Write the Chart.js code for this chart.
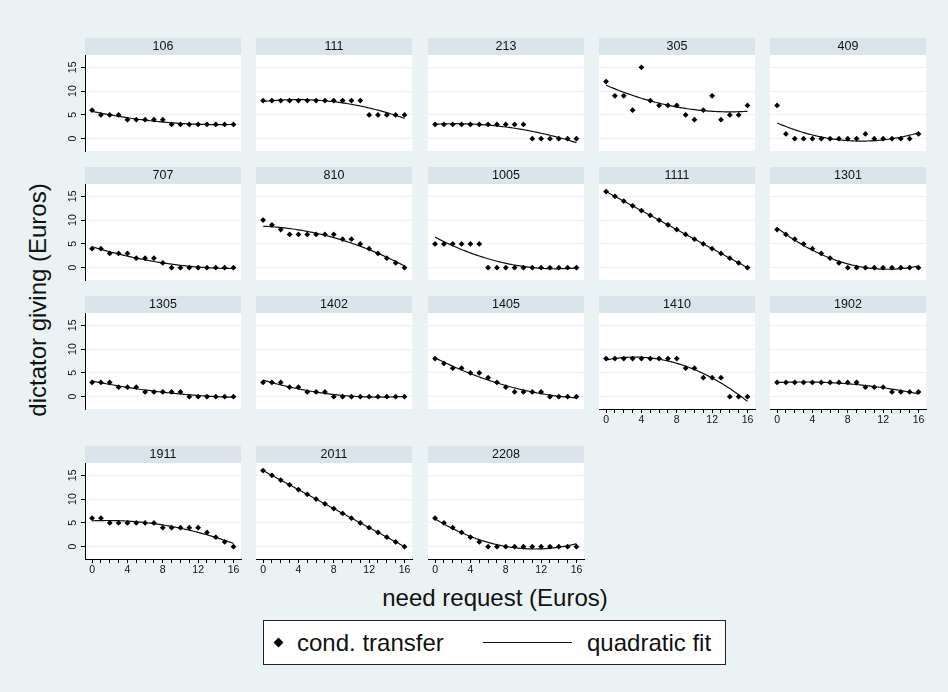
<!DOCTYPE html>
<html>
<head>
<meta charset="utf-8">
<title>dictator giving by need request</title>
<script src="https://cdn.jsdelivr.net/npm/chart.js@4.4.0/dist/chart.umd.min.js"></script>
<style>
  html, body { margin: 0; padding: 0; }
  body {
    width: 948px; height: 692px; position: relative; overflow: hidden;
    background: #eaf2f3;
    font-family: "Liberation Sans", Arial, sans-serif; color: #111;
  }
  canvas.panel { position: absolute; }
  #ytitle {
    position: absolute; left: 38px; top: 300px; white-space: nowrap; font-size: 24px;
    transform: translate(-50%, -50%) rotate(-90deg);
  }
  #xtitle {
    position: absolute; left: 495px; top: 598px; white-space: nowrap; font-size: 24px;
    transform: translate(-50%, -50%);
  }
  #legend {
    position: absolute; left: 263px; top: 620px; width: 461px; height: 43px;
    background: #fff; border: 1px solid #222; font-size: 24px; line-height: 43px;
  }
  #legend .diamond {
    position: absolute; left: 11px; top: 18px; width: 7px; height: 7px;
    background: #000; transform: rotate(45deg);
  }
  #legend .line { position: absolute; left: 219px; top: 21px; width: 89px; height: 0; border-top: 1.5px solid #111; }
  #legend .lbl { position: absolute; top: 0; white-space: nowrap; }
</style>
</head>
<body>

<div id="ytitle">dictator giving (Euros)</div>
<div id="xtitle">need request (Euros)</div>
<div id="legend">
  <span class="diamond"></span>
  <span class="lbl" style="left:33px">cond. transfer</span>
  <span class="line"></span>
  <span class="lbl" style="left:323px">quadratic fit</span>
</div>

<script>
'use strict';

// ---- data (x = need request 0..16) ----
const NEED      = [0, 1, 2, 3, 4, 5, 6, 7, 8, 9, 10, 11, 12, 13, 14, 15, 16];
const Y_TICKS   = [0, 5, 10, 15];
const X_LABELED = [0, 4, 8, 12, 16];

const p106  = [6, 5, 5, 5, 4, 4, 4, 4, 4, 3, 3, 3, 3, 3, 3, 3, 3];
const p111  = [8, 8, 8, 8, 8, 8, 8, 8, 8, 8, 8, 8, 5, 5, 5, 5, 5];
const p213  = [3, 3, 3, 3, 3, 3, 3, 3, 3, 3, 3, 0, 0, 0, 0, 0, 0];
const p305  = [12, 9, 9, 6, 15, 8, 7, 7, 7, 5, 4, 6, 9, 4, 5, 5, 7];
const p409  = [7, 1, 0, 0, 0, 0, 0, 0, 0, 0, 1, 0, 0, 0, 0, 0, 1];
const p707  = [4, 4, 3, 3, 3, 2, 2, 2, 1, 0, 0, 0, 0, 0, 0, 0, 0];
const p810  = [10, 9, 8, 7, 7, 7, 7, 7, 7, 6, 6, 5, 4, 3, 2, 1, 0];
const p1005 = [5, 5, 5, 5, 5, 5, 0, 0, 0, 0, 0, 0, 0, 0, 0, 0, 0];
const p1111 = [16, 15, 14, 13, 12, 11, 10, 9, 8, 7, 6, 5, 4, 3, 2, 1, 0];
const p1301 = [8, 7, 6, 5, 4, 3, 2, 1, 0, 0, 0, 0, 0, 0, 0, 0, 0];
const p1305 = [3, 3, 3, 2, 2, 2, 1, 1, 1, 1, 1, 0, 0, 0, 0, 0, 0];
const p1402 = [3, 3, 3, 2, 2, 1, 1, 1, 0, 0, 0, 0, 0, 0, 0, 0, 0];
const p1405 = [8, 7, 6, 6, 5, 5, 4, 3, 2, 1, 1, 1, 1, 0, 0, 0, 0];
const p1410 = [8, 8, 8, 8, 8, 8, 8, 8, 8, 6, 6, 4, 4, 4, 0, 0, 0];
const p1902 = [3, 3, 3, 3, 3, 3, 3, 3, 3, 3, 2, 2, 2, 1, 1, 1, 1];
const p1911 = [6, 6, 5, 5, 5, 5, 5, 5, 4, 4, 4, 4, 4, 3, 2, 1, 0];
const p2011 = [16, 15, 14, 13, 12, 11, 10, 9, 8, 7, 6, 5, 4, 3, 2, 1, 0];
const p2208 = [6, 5, 4, 3, 2, 1, 0, 0, 0, 0, 0, 0, 0, 0, 0, 0, 0];

const PANELS = [
  ['106', p106], ['111', p111], ['213', p213], ['305', p305], ['409', p409],
  ['707', p707], ['810', p810], ['1005', p1005], ['1111', p1111], ['1301', p1301],
  ['1305', p1305], ['1402', p1402], ['1405', p1405], ['1410', p1410], ['1902', p1902],
  ['1911', p1911], ['2011', p2011], ['2208', p2208],
];

// ---- layout (page pixels) ----
const COL_LEFT = [85, 256, 428, 599, 770];
const ROW_TOP  = [55, 184, 313, 463];
const PLOT_W = 156, PLOT_H = 96;
const AXIS_W = 45, AXIS_H = 25, TITLE_H = 17, PAD_R = 5;
const FONT = "'Liberation Sans', Arial, sans-serif";

// least squares y = a + b x + c x^2
function quadFit(xs, ys) {
  const s = [0, 0, 0, 0, 0], t = [0, 0, 0];
  xs.forEach((x, i) => {
    let p = 1;
    for (let k = 0; k < 5; k++) { s[k] += p; p *= x; }
    t[0] += ys[i]; t[1] += x * ys[i]; t[2] += x * x * ys[i];
  });
  const A = [[s[0], s[1], s[2]], [s[1], s[2], s[3]], [s[2], s[3], s[4]]];
  const det = m => m[0][0] * (m[1][1] * m[2][2] - m[1][2] * m[2][1])
                 - m[0][1] * (m[1][0] * m[2][2] - m[1][2] * m[2][0])
                 + m[0][2] * (m[1][0] * m[2][1] - m[1][1] * m[2][0]);
  const D = det(A);
  return [0, 1, 2].map(j => det(A.map((row, r) => row.map((v, c) => (c === j ? t[r] : v)))) / D);
}

// strip behind the panel title + white plot region
const stripBg = {
  id: 'stripBg',
  beforeDraw(chart) {
    const { ctx, chartArea: a } = chart;
    ctx.save();
    ctx.fillStyle = '#d9e5ea';
    ctx.fillRect(a.left, a.top - TITLE_H, a.right - a.left, TITLE_H);
    ctx.fillStyle = '#ffffff';
    ctx.fillRect(a.left, a.top, a.right - a.left, a.bottom - a.top);
    ctx.restore();
  }
};

PANELS.forEach(([id, vals], i) => {
  const r = Math.floor(i / 5), c = i % 5;
  const hasY = c === 0;
  const hasX = i + 5 >= PANELS.length;

  const cv = document.createElement('canvas');
  cv.className = 'panel';
  cv.width = AXIS_W + PLOT_W + PAD_R;
  cv.height = TITLE_H + PLOT_H + AXIS_H;
  cv.style.left = (COL_LEFT[c] - AXIS_W) + 'px';
  cv.style.top = (ROW_TOP[r] - TITLE_H) + 'px';
  cv.style.width = cv.width + 'px';
  cv.style.height = cv.height + 'px';
  document.body.appendChild(cv);

  const [qa, qb, qc] = quadFit(NEED, vals);
  const fit = [];
  for (let k = 0; k <= 80; k++) {
    const x = k * 0.2;
    fit.push({ x, y: qa + qb * x + qc * x * x });
  }

  new Chart(cv, {
    type: 'scatter',
    data: {
      datasets: [
        { type: 'line', label: 'quadratic fit', data: fit, borderColor: '#111', borderWidth: 1.2,
          pointRadius: 0, fill: false, tension: 0, order: 2 },
        { label: 'cond. transfer', data: NEED.map((x, k) => ({ x, y: vals[k] })),
          pointStyle: 'rectRot', pointRadius: 2.9, backgroundColor: '#000', borderColor: '#000',
          borderWidth: 0, order: 1 },
      ]
    },
    options: {
      responsive: false,
      animation: false,
      events: [],
      layout: { padding: { left: 0, right: PAD_R, top: 0, bottom: 0 } },
      plugins: {
        legend: { display: false },
        tooltip: { enabled: false },
        title: { display: true, text: id, fullSize: false, color: '#111',
                 font: { family: FONT, size: 12.5, weight: 'normal', lineHeight: 1.2 },
                 padding: { top: 1, bottom: 1 } },
      },
      scales: {
        x: {
          type: 'linear', min: -0.8, max: 16.85,
          afterBuildTicks: s => { s.ticks = NEED.map(v => ({ value: v })); },
          afterFit: s => { s.height = AXIS_H; },
          grid: { display: hasX, drawOnChartArea: false, drawTicks: true, tickLength: 4, tickColor: '#000' },
          border: { display: hasX, color: '#000', width: 1 },
          ticks: { display: hasX, autoSkip: false, minRotation: 0, maxRotation: 0, padding: 1, color: '#111',
                   font: { family: FONT, size: 10.5 },
                   callback: v => (X_LABELED.includes(v) ? String(v) : '') },
        },
        y: {
          type: 'linear', min: -2.6, max: 17.6,
          afterBuildTicks: s => { s.ticks = Y_TICKS.map(v => ({ value: v })); },
          afterFit: s => { s.width = AXIS_W; },
          grid: { color: '#eaf2f3', lineWidth: 1, drawTicks: hasY, tickLength: 4, tickColor: '#000' },
          border: { display: hasY, color: '#000', width: 1 },
          ticks: { display: hasY, minRotation: 90, maxRotation: 90, crossAlign: 'center', padding: 2.5,
                   color: '#111', font: { family: FONT, size: 10.5 } },
        },
      },
    },
    plugins: [stripBg],
  });
});
</script>
</body>
</html>
